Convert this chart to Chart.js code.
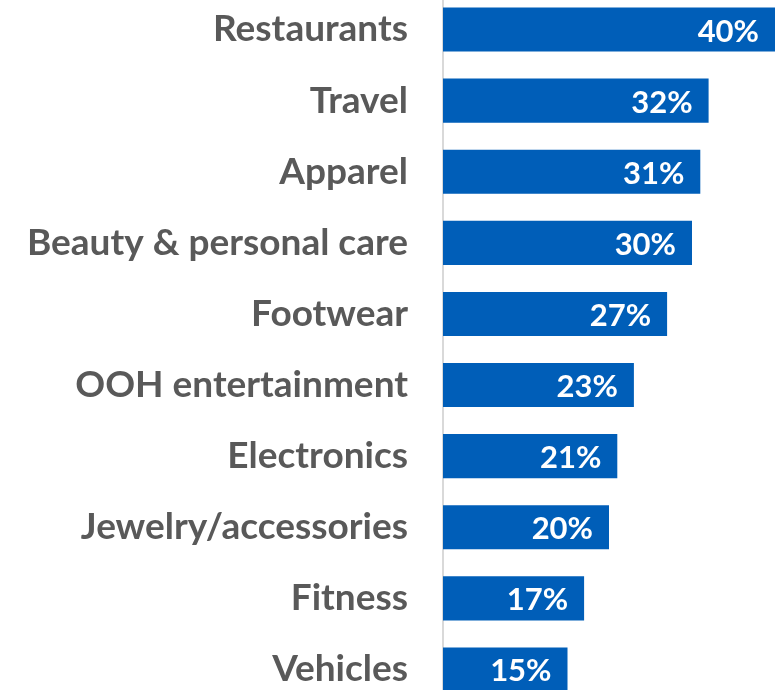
<!DOCTYPE html>
<html>
<head>
<meta charset="utf-8">
<script src="https://cdn.jsdelivr.net/npm/chart.js@4/dist/chart.umd.min.js"></script>
<style>
  html, body { margin: 0; padding: 0; background: #fff; overflow: hidden; }
  #wrap { position: absolute; left: 0; top: -6px; width: 775px; height: 711px; }
</style>
</head>
<body>
<div id="wrap"><canvas id="chart"></canvas></div>
<script>
const categories = [
  'Restaurants',
  'Travel',
  'Apparel',
  'Beauty & personal care',
  'Footwear',
  'OOH entertainment',
  'Electronics',
  'Jewelry/accessories',
  'Fitness',
  'Vehicles',
];
const shares = [40, 32, 31, 30, 27, 23, 21, 20, 17, 15];

const barBlue = '#005EB8';
const labelGray = '#595959';

// writes the percentage inside the end of each bar
const valueLabels = {
  id: 'valueLabels',
  afterDatasetsDraw(chart) {
    const { ctx } = chart;
    const meta = chart.getDatasetMeta(0);
    ctx.save();
    ctx.fillStyle = '#fff';
    ctx.font = 'bold 31px Lato';
    ctx.textAlign = 'right';
    ctx.textBaseline = 'middle';
    meta.data.forEach((bar, i) => {
      ctx.fillText(shares[i] + '%', bar.x - 16, bar.y + 2);
    });
    ctx.restore();
  }
};

const ctx = document.getElementById('chart').getContext('2d');
new Chart(ctx, {
  type: 'bar',
  data: {
    labels: categories,
    datasets: [{
      data: shares,
      backgroundColor: barBlue,
      categoryPercentage: 1,
      barPercentage: 0.62,
    }]
  },
  options: {
    indexAxis: 'y',
    responsive: true,
    maintainAspectRatio: false,
    animation: false,
    layout: { padding: 0 },
    plugins: {
      legend: { display: false },
      tooltip: { enabled: false },
    },
    scales: {
      x: {
        display: false,
        min: 0,
        max: 40,
      },
      y: {
        afterFit(scale) {
          scale.width = 443;
          scale.paddingTop = 0;
          scale.paddingBottom = 0;
        },
        grid: { display: false },
        border: { display: true, color: '#d9d9d9', width: 2 },
        ticks: {
          color: labelGray,
          padding: 27,
          font: { family: 'Lato', weight: 'bold', size: 37 },
        },
      },
    },
  },
  plugins: [valueLabels],
});
</script>
</body>
</html>
